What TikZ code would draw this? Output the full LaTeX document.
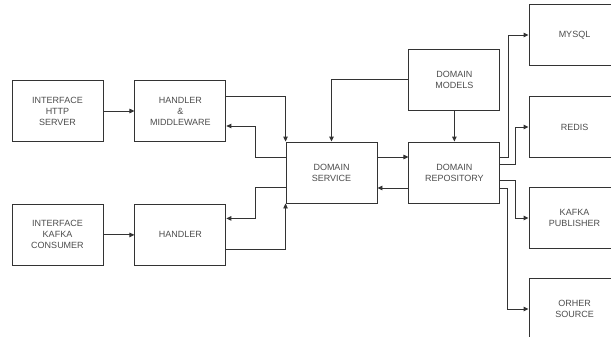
\documentclass[tikz,border=0pt]{standalone}
\usepackage{fontspec}
\setmainfont{Liberation Sans}
\usepackage{tikz}
\usetikzlibrary{arrows.meta, positioning, calc}
\definecolor{boxline}{HTML}{333333}
\definecolor{boxtext}{HTML}{4D4D4D}
\tikzset{
  arch box/.style={
    rectangle, draw=boxline, line width=0.9pt, fill=white,
    minimum width=91pt, minimum height=61pt,
    text centered, text=boxtext, align=center,
    font=\fontsize{9}{11}\selectfont, inner sep=2pt
  },
  arch arrow/.style={
    -{Triangle[length=5pt,width=4.5pt]}, line width=0.9pt, draw=boxline
  }
}

\begin{document}
\begin{tikzpicture}[x=1pt, y=1pt]
  \useasboundingbox (0,0) rectangle (611,-337);

  \node (http) [arch box] at (57.5,-111) {INTERFACE\\HTTP\\SERVER};
  \node (hmw) [arch box, right=31pt of http] {HANDLER\\\&\\MIDDLEWARE};
  \node (kafkain) [arch box, below=62pt of http] {INTERFACE\\KAFKA\\CONSUMER};
  \node (handler) [arch box, right=31pt of kafkain] {HANDLER};

  \node (service) [arch box] at (331.5,-172.5) {DOMAIN\\SERVICE};
  \node (repo) [arch box, right=31pt of service] {DOMAIN\\REPOSITORY};
  \node (models) [arch box, above=31pt of repo] {DOMAIN\\MODELS};

  \node (mysql) [arch box] at (574.5,-35) {MYSQL};
  \node (redis) [arch box] at (574.5,-127) {REDIS};
  \node (kafkapub) [arch box] at (574.5,-218) {KAFKA\\PUBLISHER};
  \node (other) [arch box] at (574.5,-309) {ORHER\\SOURCE};

  \draw [arch arrow] (http) -- (hmw);
  \draw [arch arrow] (kafkain) -- (handler);

  \draw [arch arrow] ([yshift=15pt]hmw.east) -| (service.north west);
  \draw [arch arrow] ([yshift=15.5pt]service.west) -- ++(-30pt,0) |- ([yshift=-15pt]hmw.east);
  \draw [arch arrow] ([yshift=-14.5pt]handler.east) -| (service.south west);
  \draw [arch arrow] ([yshift=-14.5pt]service.west) -- ++(-30pt,0) |- ([yshift=16.5pt]handler.east);

  \draw [arch arrow] (models.west) -| (service.north);
  \draw [arch arrow] (models) -- (repo);
  \draw [arch arrow] ([yshift=15.5pt]service.east) -- ([yshift=15.5pt]repo.west);
  \draw [arch arrow] ([yshift=-15.5pt]repo.west) -- ([yshift=-15.5pt]service.east);

  \draw [arch arrow] ([yshift=15.5pt]repo.east) -- ++(8pt,0) |- (mysql.west);
  \draw [arch arrow] ([yshift=8.5pt]repo.east) -- ++(15pt,0) |- (redis.west);
  \draw [arch arrow] ([yshift=-7.5pt]repo.east) -- ++(15pt,0) |- (kafkapub.west);
  \draw [arch arrow] ([yshift=-15.5pt]repo.east) -- ++(7pt,0) |- (other.west);
\end{tikzpicture}
\end{document}
